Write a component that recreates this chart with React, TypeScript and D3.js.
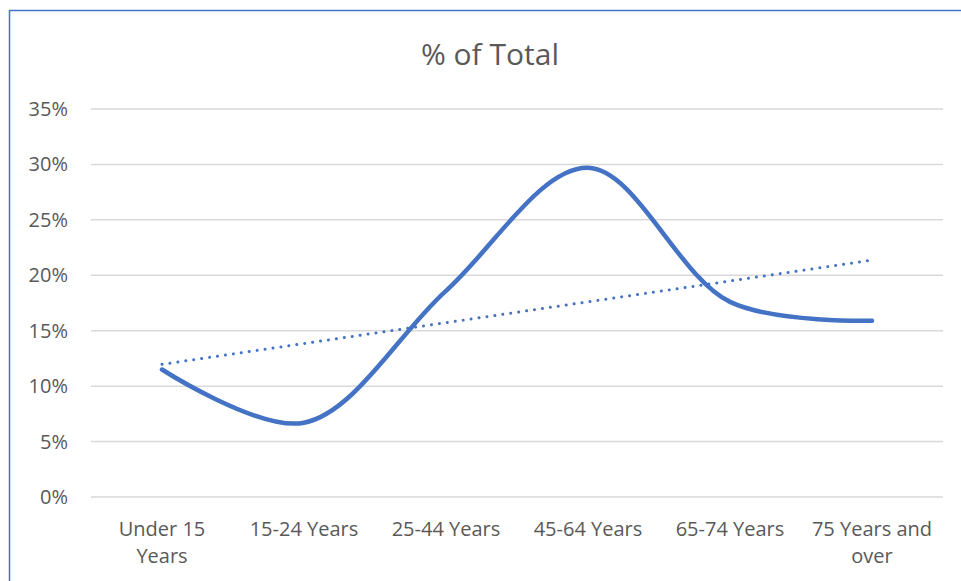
import React from "react";
import * as d3 from "d3";

const categories: string[][] = [
  ["Under 15", "Years"],
  ["15-24 Years"],
  ["25-44 Years"],
  ["45-64 Years"],
  ["65-74 Years"],
  ["75 Years and", "over"],
];
const values: number[] = [0.115, 0.067, 0.186, 0.297, 0.176, 0.159];
const yTicks: number[] = [0, 0.05, 0.1, 0.15, 0.2, 0.25, 0.3, 0.35];
const title = "% of Total";

const W = 961;
const H = 581;
const FONT = "'Open Sans', 'Noto Sans', sans-serif";
const BLUE = "#4472C4";
const TEXT = "#595959";

export default function App() {
  const x = d3
    .scaleBand<number>()
    .domain(values.map((_, i) => i))
    .range([91, 943]);
  const y = d3.scaleLinear().domain([0, 0.35]).range([497, 109]);
  const cx = (i: number) => (x(i) as number) + x.bandwidth() / 2;

  const line = d3
    .line<number>()
    .x((_, i) => cx(i))
    .y((d) => y(d))
    .curve(d3.curveCatmullRom.alpha(0.5));

  // linear trendline (least squares)
  const n = values.length;
  const xs = values.map((_, i) => i + 1);
  const mx = d3.mean(xs) as number;
  const my = d3.mean(values) as number;
  const slope =
    d3.sum(xs.map((xv, i) => (xv - mx) * (values[i] - my))) /
    d3.sum(xs.map((xv) => (xv - mx) ** 2));
  const icpt = my - slope * mx;
  const trend = [icpt + slope * 1, icpt + slope * n];

  const fmt = d3.format(".0%");

  return (
    <svg
      width={W}
      height={H}
      style={{ position: "absolute", left: 0, top: 0, background: "#fff" }}
    >
      <rect x={0} y={0} width={W} height={H} fill="#fff" />
      <rect
        x={9.5}
        y={10.5}
        width={970}
        height={600}
        fill="none"
        stroke={BLUE}
        strokeWidth={1.5}
      />
      <text
        x={490}
        y={65}
        textAnchor="middle"
        fontFamily={FONT}
        fontSize={30}
        fill={TEXT}
      >
        {title}
      </text>
      {yTicks.map((t) => (
        <g key={t}>
          <line
            x1={91}
            x2={943}
            y1={y(t)}
            y2={y(t)}
            stroke="#D9D9D9"
            strokeWidth={1.5}
          />
          <text
            x={68}
            y={y(t) + 7}
            textAnchor="end"
            fontFamily={FONT}
            fontSize={20}
            fill={TEXT}
          >
            {fmt(t)}
          </text>
        </g>
      ))}
      {categories.map((lines, i) => (
        <text
          key={i}
          x={cx(i)}
          textAnchor="middle"
          fontFamily={FONT}
          fontSize={20}
          fill={TEXT}
        >
          {lines.map((l, j) => (
            <tspan key={j} x={cx(i)} y={536 + j * 27}>
              {l}
            </tspan>
          ))}
        </text>
      ))}
      <line
        x1={cx(0)}
        x2={cx(n - 1)}
        y1={y(trend[0])}
        y2={y(trend[1])}
        stroke={BLUE}
        strokeWidth={3}
        strokeDasharray="0.01 8"
        strokeLinecap="round"
      />
      <path
        d={line(values) as string}
        fill="none"
        stroke={BLUE}
        strokeWidth={4.5}
        strokeLinecap="round"
        strokeLinejoin="round"
      />
    </svg>
  );
}
